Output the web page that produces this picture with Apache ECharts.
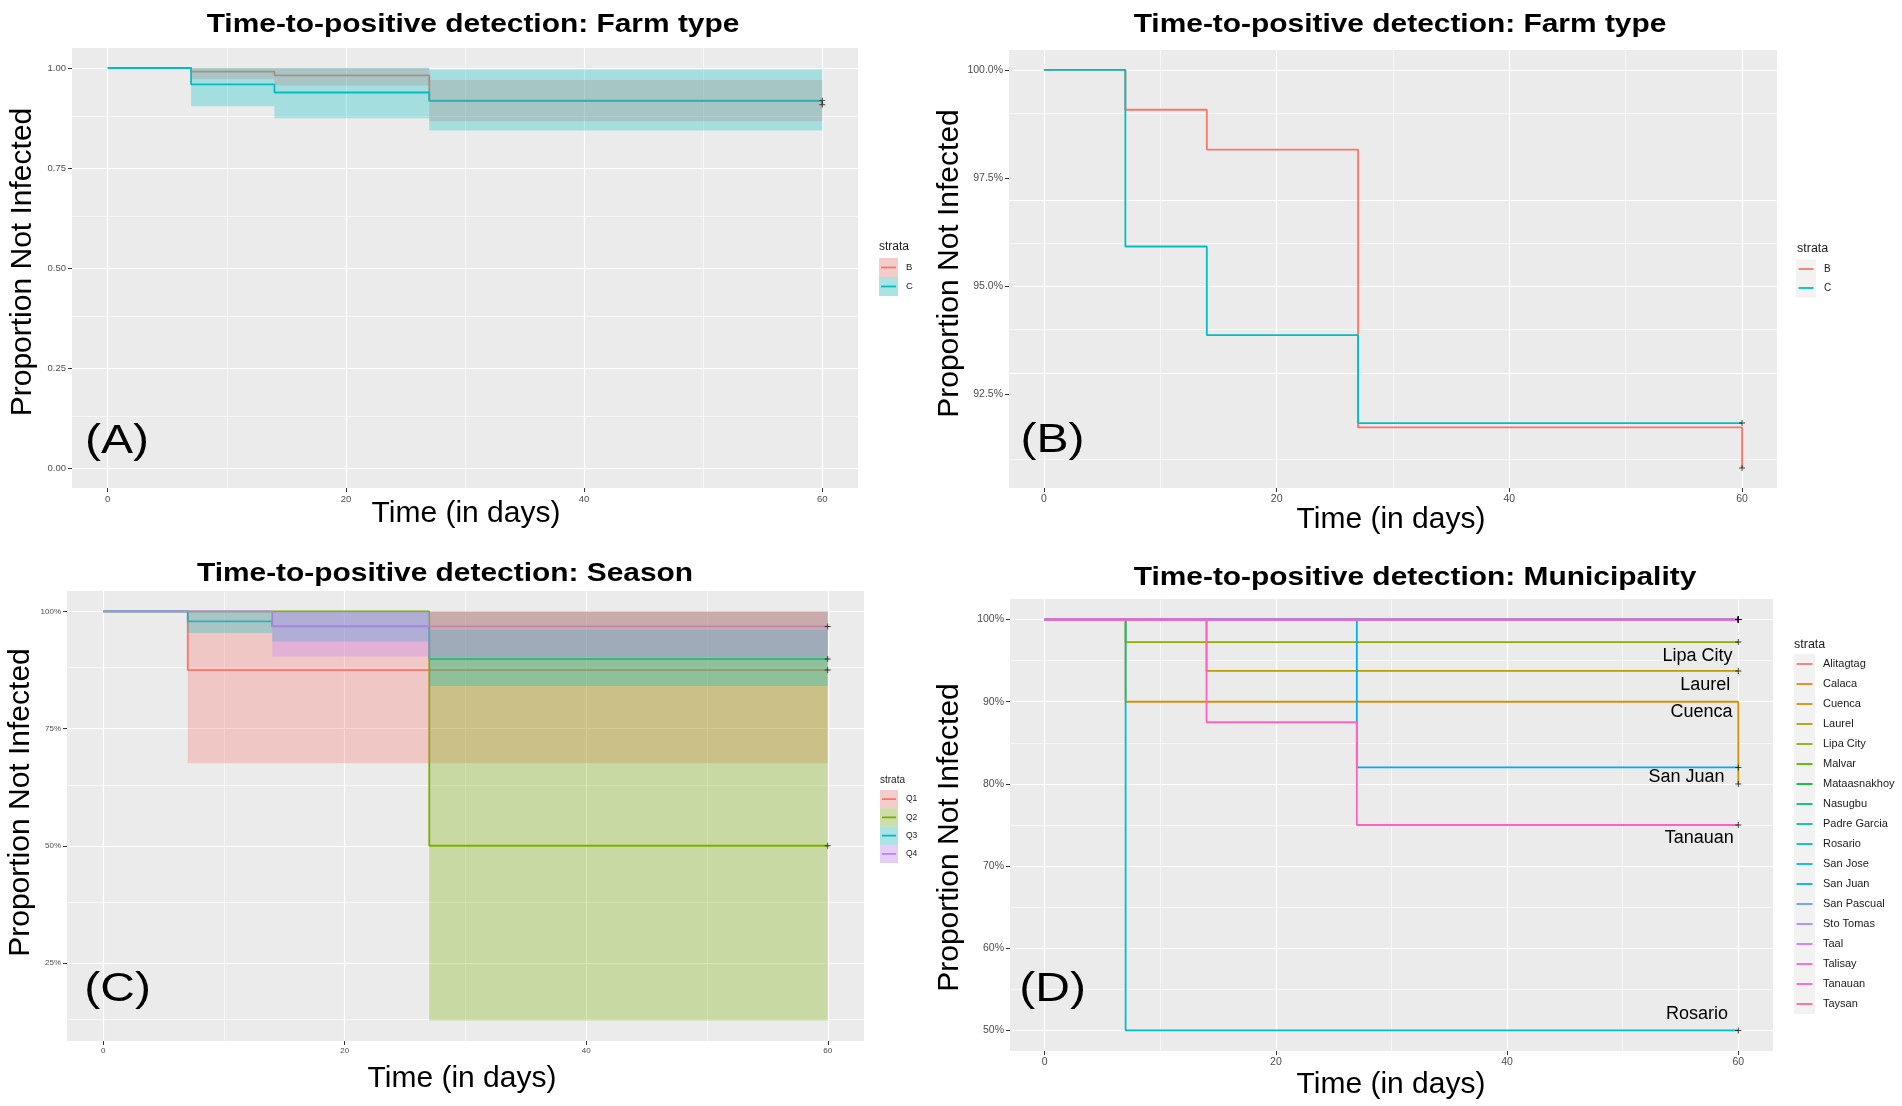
<!DOCTYPE html>
<html>
<head>
<meta charset="utf-8">
<title>Time-to-positive detection</title>
<script src="https://cdn.jsdelivr.net/npm/echarts@6/dist/echarts.min.js"></script>
<style>
  html, body { margin: 0; padding: 0; background: #fff; }
  #chart { width: 1902px; height: 1106px; }
</style>
</head>
<body>
<div id="chart"></div>
<script>
var FONT = '"Liberation Sans", Arial, Helvetica, sans-serif';

// ---- axis ticks ----
var xTicks = [0, 20, 40, 60];
var xMinorTicks = [10, 30, 50];
var yTicksA = [0, 0.25, 0.5, 0.75, 1];
var yMinorA = [0.125, 0.375, 0.625, 0.875];
var yTicksB = [0.925, 0.95, 0.975, 1];
var yMinorB = [0.9125, 0.9375, 0.9625, 0.9875];
var yTicksC = [0.25, 0.5, 0.75, 1];
var yMinorC = [0.125, 0.375, 0.625, 0.875];
var yTicksD = [0.5, 0.6, 0.7, 0.8, 0.9, 1];
var yMinorD = [0.55, 0.65, 0.75, 0.85, 0.95];

// ---- farm type (panels A and B) ----
var farmNames = ['B', 'C'];
var farmColors = ['#F8766D', '#00BFC4'];
var farmTimes = [[0, 7, 14, 27, 60, 60], [0, 7, 14, 27, 60]];
var farmSurv = [[1, 0.9908, 0.9816, 0.9174, 0.9174, 0.908], [1, 0.9592, 0.9387, 0.9184, 0.9184]];
var farmBandStart = [[7, 14, 27], [7, 14, 27]];
var farmBandEnd = [[14, 27, 60], [14, 27, 60]];
var farmLower = [[0.9726, 0.9563, 0.867], [0.9045, 0.8746, 0.844]];
var farmUpper = [[1, 1, 0.970], [1, 1, 0.996]];

// ---- season (panel C) ----
var seasonNames = ['Q1', 'Q2', 'Q3', 'Q4'];
var seasonColors = ['#F8766D', '#7CAE00', '#00BFC4', '#C77CFF'];
var seasonTimes = [[0, 7, 60], [0, 27, 60], [0, 7, 14, 27, 60], [0, 14, 60]];
var seasonSurv = [[1, 0.875, 0.875], [1, 0.5, 0.5], [1, 0.979, 0.968, 0.8985, 0.8985], [1, 0.968, 0.968]];
var seasonBandStart = [[7], [27], [7, 14, 27], [14]];
var seasonBandEnd = [[60], [60], [14, 27, 60], [60]];
var seasonLower = [[0.676], [0.127], [0.954, 0.936, 0.841], [0.904]];
var seasonUpper = [[1], [1], [1, 1, 0.961], [1]];

// ---- municipality (panel D) ----
var muniNames = ['Alitagtag', 'Calaca', 'Cuenca', 'Laurel', 'Lipa City', 'Malvar', 'Mataasnakhoy',
  'Nasugbu', 'Padre Garcia', 'Rosario', 'San Jose', 'San Juan', 'San Pascual', 'Sto Tomas',
  'Taal', 'Talisay', 'Tanauan', 'Taysan'];
var muniColors = ['#F8766D', '#E7861B', '#D39200', '#B79F00', '#93AA00', '#5EB300', '#00BA38',
  '#00BF74', '#00C19F', '#00BFC4', '#00B9E3', '#00ADFA', '#619CFF', '#AE87FF',
  '#DB72FB', '#F564E3', '#FF61C3', '#FF689F'];
var muniTimes = [[0, 60], [0, 60], [0, 7, 60, 60], [0, 14, 60], [0, 7, 60], [0, 60], [0, 60],
  [0, 60], [0, 60], [0, 7, 60], [0, 60], [0, 27, 60], [0, 60], [0, 60],
  [0, 60], [0, 60], [0, 14, 27, 60], [0, 60]];
var muniSurv = [[1, 1], [1, 1], [1, 0.9, 0.9, 0.8], [1, 0.9375, 0.9375], [1, 0.9726, 0.9726], [1, 1], [1, 1],
  [1, 1], [1, 1], [1, 0.5, 0.5], [1, 1], [1, 0.82, 0.82], [1, 1], [1, 1],
  [1, 1], [1, 1], [1, 0.875, 0.75, 0.75], [1, 1]];
var muniLabelNames = ['Lipa City', 'Laurel', 'Cuenca', 'San Juan', 'Tanauan', 'Rosario'];
var muniLabelX = [59.5, 59.3, 59.5, 58.8, 59.6, 59.1];
var muniLabelY = [0.9554, 0.920, 0.887, 0.8086, 0.7346, 0.5197];

// ---- layout of the four panels ----
var panels = [
  { grid: { left: 72, top: 48, width: 786, height: 440 }, yMin: -0.05, yMax: 1.05,
    yTicks: yTicksA, yMinor: yMinorA, tickFont: 9.5,
    fmt: function (v) { return v.toFixed(2); } },
  { grid: { left: 1009, top: 50, width: 768, height: 438 }, yMin: 0.9034, yMax: 1.0046,
    yTicks: yTicksB, yMinor: yMinorB, tickFont: 10.5,
    fmt: function (v) { return (v * 100).toFixed(1) + '%'; } },
  { grid: { left: 67, top: 591, width: 797, height: 450 }, yMin: 0.08335, yMax: 1.04365,
    yTicks: yTicksC, yMinor: yMinorC, tickFont: 8,
    fmt: function (v) { return Math.round(v * 100) + '%'; } },
  { grid: { left: 1010, top: 599, width: 763, height: 452 }, yMin: 0.475, yMax: 1.025,
    yTicks: yTicksD, yMinor: yMinorD, tickFont: 10.5,
    fmt: function (v) { return Math.round(v * 100) + '%'; } }
];

function rgba(hex, a) {
  var n = parseInt(hex.slice(1), 16);
  return 'rgba(' + (n >> 16) + ',' + ((n >> 8) & 255) + ',' + (n & 255) + ',' + a + ')';
}

function lineIcon(w, h, inset) {
  var y0 = h / 2 - 0.9, y1 = h / 2 + 0.9;
  return 'path://M0,0M' + w + ',' + h + 'M' + inset + ',' + y0 + 'H' + (w - inset) +
    'V' + y1 + 'H' + inset + 'Z';
}

var grids = [], xAxes = [], yAxes = [], series = [];

panels.forEach(function (p, i) {
  grids.push(Object.assign({ show: true, backgroundColor: '#EBEBEB', borderWidth: 0 }, p.grid));
  xAxes.push({
    type: 'value', gridIndex: i, min: -3, max: 63,
    axisLine: { show: false, onZero: false },
    axisTick: { show: true, length: 4, customValues: xTicks, lineStyle: { color: '#333333', width: 1 } },
    axisLabel: { customValues: xTicks, fontSize: p.tickFont, color: '#4D4D4D', margin: 6, fontFamily: FONT },
    splitLine: { show: false }, minorTick: { show: false }, minorSplitLine: { show: false }
  });
  yAxes.push({
    type: 'value', gridIndex: i, min: p.yMin, max: p.yMax,
    axisLine: { show: false, onZero: false },
    axisTick: { show: true, length: 4, customValues: p.yTicks, lineStyle: { color: '#333333', width: 1 } },
    axisLabel: { customValues: p.yTicks, fontSize: p.tickFont, color: '#4D4D4D', margin: 6,
      fontFamily: FONT, formatter: p.fmt },
    splitLine: { show: false }, minorTick: { show: false }, minorSplitLine: { show: false }
  });

  // panel grid lines (major + minor), white like ggplot's theme_gray, kept under the data
  var major = { color: '#FFFFFF', width: 1.2, type: 'solid' };
  var minor = { color: '#FFFFFF', width: 0.6, type: 'solid' };
  var marks = [];
  xTicks.forEach(function (v) { marks.push({ xAxis: v, lineStyle: major }); });
  xMinorTicks.forEach(function (v) { marks.push({ xAxis: v, lineStyle: minor }); });
  p.yTicks.forEach(function (v) { marks.push({ yAxis: v, lineStyle: major }); });
  p.yMinor.forEach(function (v) { marks.push({ yAxis: v, lineStyle: minor }); });
  series.push({
    type: 'line', xAxisIndex: i, yAxisIndex: i, data: [], silent: true, z: 1,
    markLine: { z: 1, silent: true, symbol: ['none', 'none'], label: { show: false },
      emphasis: { disabled: true }, animation: false, data: marks }
  });
});

function stepSeries(name, times, surv, color, gi) {
  return {
    type: 'line', name: name, xAxisIndex: gi, yAxisIndex: gi, step: 'end',
    symbol: 'none', silent: true, z: 2,
    data: times.map(function (t, k) { return [t, surv[k]]; }),
    lineStyle: { color: color, width: 1.8 }, itemStyle: { color: color }
  };
}

function bandSeries(name, start, end, lower, upper, color, gi) {
  var fill = rgba(color, 0.3);
  return {
    type: 'custom', name: name, xAxisIndex: gi, yAxisIndex: gi, silent: true, z: 3,
    encode: { x: [0, 1], y: [2, 3] },
    data: start.map(function (s, k) { return [s, end[k], lower[k], upper[k]]; }),
    renderItem: function (params, api) {
      var a = api.coord([api.value(0), api.value(3)]);
      var b = api.coord([api.value(1), api.value(2)]);
      return { type: 'rect', shape: { x: a[0], y: a[1], width: b[0] - a[0], height: b[1] - a[1] },
        style: { fill: fill } };
    }
  };
}

function censorSeries(timesList, survList, gi) {
  var pts = timesList.map(function (t, k) {
    return [t[t.length - 1], survList[k][survList[k].length - 1]];
  });
  return {
    type: 'scatter', xAxisIndex: gi, yAxisIndex: gi, silent: true, z: 5,
    symbol: 'path://M4.2,0H5.8V10H4.2ZM0,4.2H10V5.8H0Z', symbolSize: 6,
    itemStyle: { color: '#111111' }, data: pts
  };
}

// panel A: lines under the confidence ribbons
farmNames.forEach(function (n, k) { series.push(stepSeries(n, farmTimes[k], farmSurv[k], farmColors[k], 0)); });
farmNames.forEach(function (n, k) {
  series.push(bandSeries(n, farmBandStart[k], farmBandEnd[k], farmLower[k], farmUpper[k], farmColors[k], 0));
});
series.push(censorSeries(farmTimes, farmSurv, 0));

// panel B: same curves, no ribbons
farmNames.forEach(function (n, k) { series.push(stepSeries(n, farmTimes[k], farmSurv[k], farmColors[k], 1)); });
series.push(censorSeries(farmTimes, farmSurv, 1));

// panel C
seasonNames.forEach(function (n, k) { series.push(stepSeries(n, seasonTimes[k], seasonSurv[k], seasonColors[k], 2)); });
seasonNames.forEach(function (n, k) {
  series.push(bandSeries(n, seasonBandStart[k], seasonBandEnd[k], seasonLower[k], seasonUpper[k], seasonColors[k], 2));
});
series.push(censorSeries(seasonTimes, seasonSurv, 2));

// panel D
muniNames.forEach(function (n, k) { series.push(stepSeries(n, muniTimes[k], muniSurv[k], muniColors[k], 3)); });
series.push(censorSeries(muniTimes, muniSurv, 3));
series.push({
  type: 'scatter', xAxisIndex: 3, yAxisIndex: 3, silent: true, z: 6, symbolSize: 0,
  itemStyle: { color: 'rgba(0,0,0,0)' },
  data: muniLabelNames.map(function (n, k) { return { name: n, value: [muniLabelX[k], muniLabelY[k]] }; }),
  label: { show: true, position: 'left', distance: 0, formatter: '{b}', fontSize: 18,
    color: '#000000', opacity: 1, fontFamily: FONT }
});

// ---- legends ----
function bandLegend(names, colors, left, top, w, h) {
  return {
    orient: 'vertical', left: left, top: top, padding: 0, itemGap: 0, itemWidth: w, itemHeight: h,
    selectedMode: false, textStyle: { color: 'rgba(0,0,0,0)', fontSize: 9 },
    data: names.map(function (n, k) {
      return { name: n, icon: 'rect', itemStyle: { color: rgba(colors[k], 0.3), borderWidth: 0 } };
    })
  };
}
function lineLegend(names, colors, left, top, w, h, inset, fontSize) {
  return {
    orient: 'vertical', left: left, top: top, padding: 0, itemGap: 0, itemWidth: w, itemHeight: h,
    selectedMode: false,
    textStyle: { color: '#1A1A1A', fontSize: fontSize, fontFamily: FONT, padding: [0, 0, 0, 3] },
    data: names.map(function (n, k) {
      return { name: n, icon: lineIcon(w, h, inset), itemStyle: { color: colors[k], borderWidth: 0 } };
    })
  };
}

var legends = [
  bandLegend(farmNames, farmColors, 879, 258, 19, 19),
  lineLegend(farmNames, farmColors, 879, 258, 19, 19, 2, 9.5),
  lineLegend(farmNames, farmColors, 1796, 259.5, 20, 19, 2.5, 10),
  bandLegend(seasonNames, seasonColors, 880, 790, 18, 18.25),
  lineLegend(seasonNames, seasonColors, 880, 790, 18, 18.25, 2, 8.5),
  lineLegend(muniNames, muniColors, 1794, 654, 21, 20, 2.5, 11)
];

// ---- text and legend key backgrounds ----
var graphics = [];
function addText(txt, x, y, size, opts) {
  opts = opts || {};
  graphics.push({
    type: 'text', x: x, y: y, rotation: opts.rot || 0, scaleX: opts.sx || 1, z: 10,
    style: {
      text: txt, fontSize: size, fontWeight: opts.bold ? 'bold' : 'normal', fontFamily: FONT,
      fill: opts.color || '#000000',
      align: opts.align || 'center', verticalAlign: 'middle',
      textAlign: opts.align || 'center', textVerticalAlign: 'middle'
    }
  });
}

var titleText = ['Time-to-positive detection: Farm type', 'Time-to-positive detection: Farm type',
  'Time-to-positive detection: Season', 'Time-to-positive detection: Municipality'];
var titlePos = [[473, 25], [1400, 24.5], [445, 574], [1415, 578]];
var yTitlePos = [[23, 262], [950, 263.5], [20.5, 802.5], [950, 837.5]];
var xTitlePos = [[466, 514], [1391, 519.5], [462, 1078.5], [1391, 1084.5]];
var tagText = ['(A)', '(B)', '(C)', '(D)'];
var tagPos = [[117, 442], [1052.6, 441], [117.6, 989.5], [1052.6, 989.5]];

for (var i = 0; i < 4; i++) {
  addText(titleText[i], titlePos[i][0], titlePos[i][1], 26, { bold: true, sx: 1.15 });
  addText('Proportion Not Infected', yTitlePos[i][0], yTitlePos[i][1], 30, { rot: Math.PI / 2 });
  addText('Time (in days)', xTitlePos[i][0], xTitlePos[i][1], 30);
  addText(tagText[i], tagPos[i][0], tagPos[i][1], 40, { sx: 1.2 });
}

var strataPos = [[879, 247, 12], [1797, 249, 12.5], [880, 780, 10], [1794, 645, 12.5]];
strataPos.forEach(function (s) { addText('strata', s[0], s[1], s[2], { align: 'left', color: '#1A1A1A' }); });

var keyBoxes = [[879, 258, 19, 38], [1796, 259.5, 20, 38], [880, 790, 18, 73], [1794, 654, 21, 360]];
keyBoxes.forEach(function (b) {
  graphics.push({ type: 'rect', z: 0, shape: { x: b[0], y: b[1], width: b[2], height: b[3] },
    style: { fill: '#F2F2F2' } });
});

var chart = echarts.init(document.getElementById('chart'));
chart.setOption({
  animation: false,
  backgroundColor: '#FFFFFF',
  textStyle: { fontFamily: FONT },
  grid: grids,
  xAxis: xAxes,
  yAxis: yAxes,
  legend: legends,
  graphic: { elements: graphics },
  series: series
});
</script>
</body>
</html>
